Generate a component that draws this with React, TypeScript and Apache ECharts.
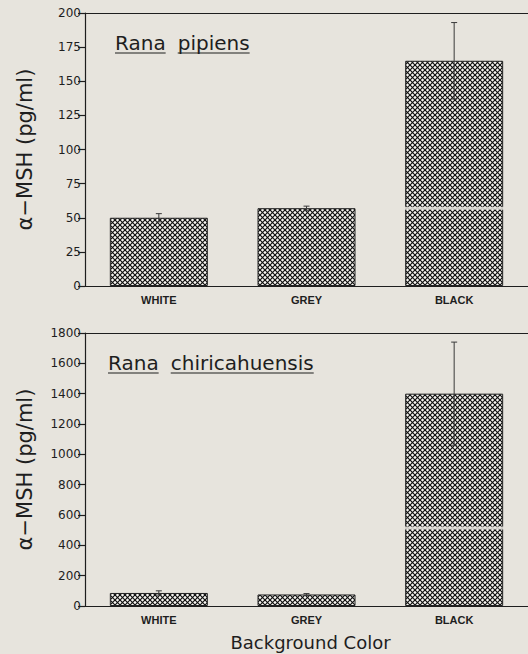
import React, { useEffect, useRef } from "react";
import * as echarts from "echarts";

const categories = ["WHITE", "GREY", "BLACK"];
const pipiensMean = [50, 57, 165];
const pipiensErr = [3, 1.5, 28];
const pipiensBand = [null, null, 57];
const chiriMean = [86, 76, 1400];
const chiriErr = [14, 6, 340];
const chiriBand = [null, null, 514];
const pipiensAxis = { max: 200, interval: 25 };
const chiriAxis = { max: 1800, interval: 200 };
const yName = "α−MSH (pg/ml)";
const xName = "Background Color";
const title1 = ["Rana", "pipiens"];
const title2 = ["Rana", "chiricahuensis"];

const BG = "#e7e4dd";
const INK = "#1e1e1e";
const TITLE_FONT = "DejaVu Sans";

function makeHatch() {
  const s = 5;
  const c = document.createElement("canvas");
  c.width = s;
  c.height = s;
  const ctx = c.getContext("2d")!;
  ctx.fillStyle = "#f7f5f0";
  ctx.fillRect(0, 0, s, s);
  ctx.strokeStyle = "#111";
  ctx.lineWidth = 1.2;
  for (let k = -1; k <= 1; k++) {
    ctx.beginPath();
    ctx.moveTo(-1 + k * s, -1);
    ctx.lineTo(s + 1 + k * s, s + 1);
    ctx.stroke();
    ctx.beginPath();
    ctx.moveTo(-1 + k * s, s + 1);
    ctx.lineTo(s + 1 + k * s, -1);
    ctx.stroke();
  }
  return c;
}

function measure(text: string, font: string) {
  const c = document.createElement("canvas").getContext("2d")!;
  c.font = font;
  return c.measureText(text).width;
}

export default function App() {
  const ref = useRef<HTMLDivElement>(null);
  useEffect(() => {
    document.body.style.margin = "0";
    document.body.style.background = BG;
    const chart = echarts.init(ref.current!, null, { renderer: "svg" });
    const hatch = makeHatch();
    const barWidth = 98;

    const errSeries = (idx: number, mean: number[], err: number[]) => ({
      type: "custom",
      xAxisIndex: idx * 2,
      yAxisIndex: idx,
      z: 5,
      data: categories.map((_, i) => [i, mean[i], err[i]]),
      renderItem: (params: any, api: any) => {
        const x = api.value(0);
        const m = api.value(1);
        const e = api.value(2);
        const t = api.coord([x, m + e]);
        const b = api.coord([x, m - e]);
        const st = { stroke: "#3a3a3a", lineWidth: 1 };
        return {
          type: "group",
          children: [
            { type: "line", shape: { x1: t[0], y1: t[1], x2: b[0], y2: b[1] }, style: st },
            { type: "line", shape: { x1: t[0] - 3, y1: t[1], x2: t[0] + 3, y2: t[1] }, style: st },
            { type: "line", shape: { x1: b[0] - 3, y1: b[1], x2: b[0] + 3, y2: b[1] }, style: st },
          ],
        };
      },
    });

    const bandSeries = (idx: number, band: (number | null)[]) => ({
      type: "custom",
      xAxisIndex: idx * 2,
      yAxisIndex: idx,
      z: 4,
      data: band.map((v, i) => (v == null ? null : [i, v])).filter((d) => d),
      renderItem: (params: any, api: any) => {
        const p = api.coord([api.value(0), api.value(1)]);
        return {
          type: "rect",
          shape: { x: p[0] - barWidth / 2 - 1, y: p[1] - 1.5, width: barWidth + 2, height: 3 },
          style: { fill: "#e9e6e0", opacity: 0.85 },
        };
      },
    });

    const barSeries = (idx: number, mean: number[]) => ({
      type: "bar",
      xAxisIndex: idx * 2,
      yAxisIndex: idx,
      barWidth,
      data: mean,
      itemStyle: {
        color: { image: hatch, repeat: "repeat" },
        borderColor: "#222",
        borderWidth: 1,
      },
    });

    const xBottom = (gi: number, withName: boolean) => ({
      type: "category",
      gridIndex: gi,
      data: categories,
      position: "bottom",
      axisLine: { lineStyle: { color: INK, width: 1.2 } },
      axisTick: { show: false },
      axisLabel: {
        color: INK,
        fontFamily: "Liberation Sans",
        fontSize: 11,
        fontWeight: "bold",
        margin: 8,
      },
      name: withName ? xName : "",
      nameLocation: "middle",
      nameGap: 27,
      nameTextStyle: { color: INK, fontFamily: TITLE_FONT, fontSize: 18, padding: [0, 0, 0, 8] },
    });
    const xTop = (gi: number) => ({
      type: "category",
      gridIndex: gi,
      data: categories,
      position: "top",
      axisLine: { lineStyle: { color: INK, width: 1.2 } },
      axisTick: { show: false },
      axisLabel: { show: false },
    });
    const yAx = (gi: number, ax: { max: number; interval: number }) => ({
      type: "value",
      gridIndex: gi,
      min: 0,
      max: ax.max,
      interval: ax.interval,
      splitLine: { show: false },
      axisLine: { show: true, lineStyle: { color: INK, width: 1.2 } },
      axisTick: { show: true, length: 7, lineStyle: { color: INK, width: 1.2 } },
      axisLabel: {
        color: INK,
        fontFamily: "DejaVu Sans",
        fontSize: 12,
        margin: 4,
        formatter: (v: number) => String(v),
      },
      name: yName,
      nameLocation: "middle",
      nameRotate: 90,
      nameGap: 50,
      nameTextStyle: { color: INK, fontFamily: TITLE_FONT, fontSize: 21 },
    });

    const titleFont = `20px "${TITLE_FONT}"`;
    const titleGraphic = (parts: string[], x: number, bottom: number) => {
      const els: any[] = [];
      let cx = x;
      const space = measure(" ", titleFont) * 1.9;
      parts.forEach((p) => {
        const w = measure(p, titleFont);
        els.push({
          type: "text",
          x: cx,
          y: bottom,
          style: {
            text: p,
            fill: INK,
            font: titleFont,
            verticalAlign: "bottom",
          },
        });
        els.push({
          type: "line",
          shape: { x1: cx, y1: bottom, x2: cx + w, y2: bottom },
          style: { stroke: INK, lineWidth: 1.2 },
        });
        cx += w + space;
      });
      return els;
    };

    chart.setOption({
      animation: false,
      backgroundColor: BG,
      grid: [
        { left: 85, top: 13, height: 273, right: 0 },
        { left: 85, top: 333, height: 273, right: 0 },
      ],
      xAxis: [xBottom(0, false), xTop(0), xBottom(1, true), xTop(1)],
      yAxis: [yAx(0, pipiensAxis), yAx(1, chiriAxis)],
      series: [
        barSeries(0, pipiensMean),
        bandSeries(0, pipiensBand),
        errSeries(0, pipiensMean, pipiensErr),
        barSeries(1, chiriMean),
        bandSeries(1, chiriBand),
        errSeries(1, chiriMean, chiriErr),
      ],
      graphic: [...titleGraphic(title1, 115, 53), ...titleGraphic(title2, 108, 373)],
    });
    return () => chart.dispose();
  }, []);
  return (
    <div
      ref={ref}
      style={{ position: "fixed", left: 0, top: 0, width: 528, height: 654 }}
    />
  );
}
